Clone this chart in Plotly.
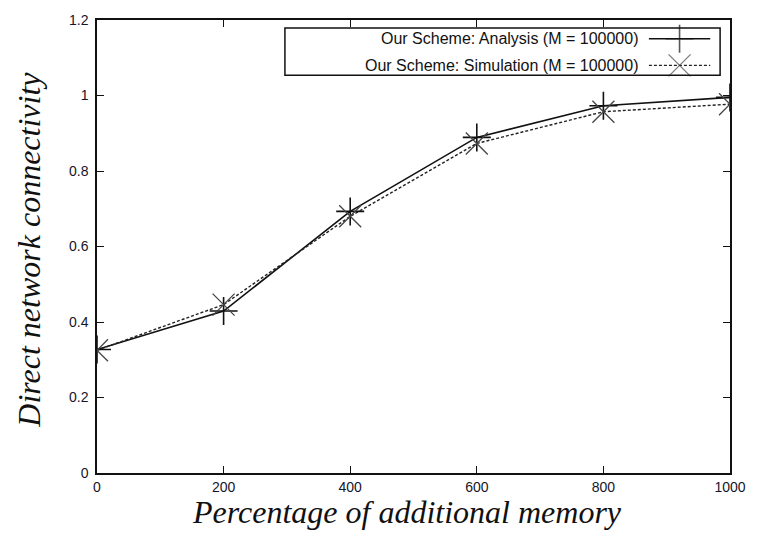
import plotly.graph_objects as go

# Data
memory_pct = [0, 200, 400, 600, 800, 1000]
analysis = [0.327, 0.429, 0.693, 0.889, 0.973, 0.995]
simulation = [0.325, 0.446, 0.680, 0.873, 0.957, 0.977]
series_names = ["Our Scheme: Analysis (M = 100000)", "Our Scheme: Simulation (M = 100000)"]
x_ticks = [0, 200, 400, 600, 800, 1000]
y_ticks = [0, 0.2, 0.4, 0.6, 0.8, 1.0, 1.2]
y_tick_text = ["0", "0.2", "0.4", "0.6", "0.8", "1", "1.2"]
x_title = "Percentage of additional memory"
y_title = "Direct network connectivity"

W, H = 758, 536
ml, mr, mt, mb = 97, 21, 14, 63
pw, ph = W - ml - mr, H - mt - mb

def px(xp):
    return (xp - ml) / pw

def py(yp):
    return (H - mb - yp) / ph

SANS = "Liberation Sans, Arial, sans-serif"
SERIF = "Liberation Serif, Times New Roman, serif"

fig = go.Figure()

fig.add_trace(go.Scatter(
    x=memory_pct, y=analysis, mode="lines+markers",
    line=dict(color="#111111", width=1.6),
    marker=dict(symbol="cross-thin", size=20, line=dict(color="#111111", width=1.6)),
    showlegend=False,
))
fig.add_trace(go.Scatter(
    x=memory_pct, y=simulation, mode="lines+markers",
    line=dict(color="#222222", width=1.4, dash="3px,2px"),
    marker=dict(symbol="x-thin", size=22, line=dict(color="#444444", width=1.3)),
    showlegend=False,
))

# Custom gnuplot-style legend
lx0, lx1, lxm = px(655), px(717), px(686)
rows = [py(33), py(60)]
fig.add_trace(go.Scatter(
    x=[lx0, lxm, lx1], y=[rows[0]] * 3, xaxis="x2", yaxis="y2",
    mode="lines+markers", line=dict(color="#111111", width=1.6),
    marker=dict(symbol="cross-thin", size=[0, 20, 0], line=dict(color="#111111", width=1.6)),
    showlegend=False, hoverinfo="skip",
))
fig.add_trace(go.Scatter(
    x=[lx0, lxm, lx1], y=[rows[1]] * 3, xaxis="x2", yaxis="y2",
    mode="lines+markers", line=dict(color="#222222", width=1.4, dash="3px,2px"),
    marker=dict(symbol="x-thin", size=[0, 22, 0], line=dict(color="#444444", width=1.3)),
    showlegend=False, hoverinfo="skip",
))

annotations = []
for name, yy in zip(series_names, rows):
    annotations.append(dict(
        x=px(646), y=yy, xref="paper", yref="paper", text=name, showarrow=False,
        xanchor="right", yanchor="middle",
        font=dict(family=SANS, size=16, color="#111111"),
    ))

# Axis titles (italic serif), placed as annotations
annotations.append(dict(
    x=px(410), y=py(513), xref="paper", yref="paper", text="<i>" + x_title + "</i>",
    showarrow=False, xanchor="center", yanchor="middle",
    font=dict(family=SERIF, size=32, color="#111111"),
))
annotations.append(dict(
    x=px(28), y=py(247), xref="paper", yref="paper", text="<i>" + y_title + "</i>",
    showarrow=False, xanchor="center", yanchor="middle", textangle=-90,
    font=dict(family=SERIF, size=32, color="#111111"),
))

shapes = [dict(type="rect", xref="paper", yref="paper",
               x0=px(287), x1=px(727), y0=py(70), y1=py(22),
               line=dict(color="#111111", width=1.5))]

fig.update_layout(
    width=W, height=H,
    margin=dict(l=ml, r=mr, t=mt, b=mb),
    paper_bgcolor="white", plot_bgcolor="white",
    annotations=annotations, shapes=shapes,
    xaxis=dict(
        range=[0, 1000], tickvals=x_ticks, ticks="inside", ticklen=7, tickwidth=1.3,
        tickcolor="#111111", showline=True, linecolor="#111111", linewidth=1.5,
        mirror="ticks", showgrid=False, zeroline=False,
        tickfont=dict(family=SANS, size=14, color="#15152a"),
    ),
    yaxis=dict(
        range=[0, 1.2], tickvals=y_ticks, ticktext=y_tick_text, ticks="inside", ticklen=7, tickwidth=1.3,
        tickcolor="#111111", showline=True, linecolor="#111111", linewidth=1.5,
        mirror="ticks", showgrid=False, zeroline=False, ticklabelstandoff=4,
        tickfont=dict(family=SANS, size=14, color="#15152a"),
    ),
    xaxis2=dict(domain=[0, 1], range=[0, 1], visible=False, overlaying="x", anchor="y2"),
    yaxis2=dict(domain=[0, 1], range=[0, 1], visible=False, overlaying="y", anchor="x2"),
)

fig.write_html("out.html")
